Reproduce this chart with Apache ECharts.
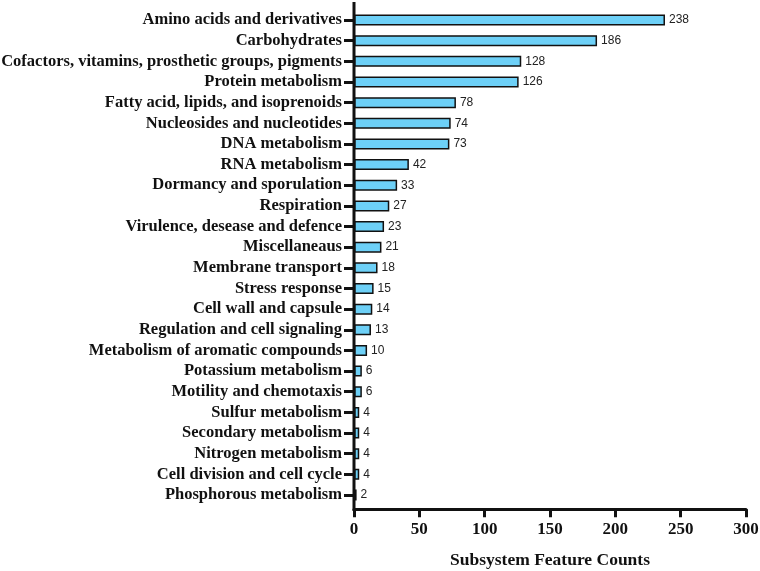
<!DOCTYPE html>
<html>
<head>
<meta charset="utf-8">
<script src="https://cdn.jsdelivr.net/npm/echarts@6/dist/echarts.min.js"></script>
<style>
html, body { margin: 0; padding: 0; background: #fff; }
#chart { width: 760px; height: 571px; }
</style>
</head>
<body>
<div id="chart"></div>
<script>
// subsystem categories, top to bottom as in the figure
var categories = [
	'Amino acids and derivatives',
	'Carbohydrates',
	'Cofactors, vitamins, prosthetic groups, pigments',
	'Protein metabolism',
	'Fatty acid, lipids, and isoprenoids',
	'Nucleosides and nucleotides',
	'DNA metabolism',
	'RNA metabolism',
	'Dormancy and sporulation',
	'Respiration',
	'Virulence, desease and defence',
	'Miscellaneaus',
	'Membrane transport',
	'Stress response',
	'Cell wall and capsule',
	'Regulation and cell signaling',
	'Metabolism of aromatic compounds',
	'Potassium metabolism',
	'Motility and chemotaxis',
	'Sulfur metabolism',
	'Secondary metabolism',
	'Nitrogen metabolism',
	'Cell division and cell cycle',
	'Phosphorous metabolism'
];
var counts = [238, 186, 128, 126, 78, 74, 73, 42, 33, 27, 23, 21, 18, 15, 14, 13, 10, 6, 6, 4, 4, 4, 4, 2];
var xTicks = [0, 50, 100, 150, 200, 250, 300];

var serif = '"Liberation Serif", "Times New Roman", serif';

var chart = echarts.init(document.getElementById('chart'));
var option = {
	animation: false,
	grid: {
		left: 354,
		right: 14,
		top: 9.7,
		bottom: 65.7,
		outerBoundsMode: 'none'
	},
	xAxis: {
		type: 'value',
		min: xTicks[0],
		max: xTicks[xTicks.length - 1],
		interval: 50,
		offset: 4,
		name: 'Subsystem Feature Counts',
		nameLocation: 'middle',
		nameGap: 42,
		nameTextStyle: {
			fontFamily: serif,
			fontWeight: 'bold',
			fontSize: 17.5,
			color: '#111'
		},
		axisLine: { show: true, lineStyle: { color: '#111', width: 3 } },
		axisTick: { show: true, length: 8, lineStyle: { color: '#111', width: 3 } },
		axisLabel: {
			fontFamily: serif,
			fontWeight: 'bold',
			fontSize: 17,
			color: '#111',
			margin: 12
		},
		splitLine: { show: false }
	},
	yAxis: {
		type: 'category',
		data: categories,
		inverse: true,
		axisLine: { show: false },
		axisTick: { show: true, alignWithLabel: true, length: 10, lineStyle: { color: '#111', width: 3 } },
		axisLabel: {
			fontFamily: serif,
			fontWeight: 'bold',
			fontSize: 16.5,
			color: '#111',
			margin: 12,
			interval: 0
		}
	},
	series: [
		{
			type: 'bar',
			data: counts,
			barWidth: 11,
			itemStyle: {
				color: '#6dd0f7',
				borderColor: '#111',
				borderWidth: 1.5
			},
			label: {
				show: true,
				position: 'right',
				distance: 4,
				fontFamily: 'Arial, "Liberation Sans", sans-serif',
				fontSize: 12,
				color: '#222'
			}
		}
	]
};
chart.setOption(option);

// y axis line runs a bit past the category band, from near the top down to the x axis
var x0 = chart.convertToPixel({ xAxisIndex: 0 }, 0);
chart.setOption({
	graphic: [{
		type: 'line',
		shape: { x1: x0, y1: 2, x2: x0, y2: 511 },
		style: { stroke: '#111', lineWidth: 3 },
		z: 10
	}]
});
</script>
</body>
</html>
